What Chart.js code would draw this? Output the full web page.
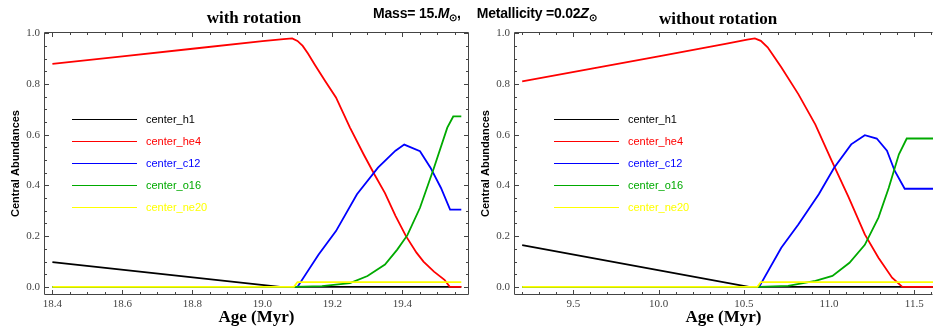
<!DOCTYPE html>
<html><head><meta charset="utf-8">
<script src="https://cdn.jsdelivr.net/npm/chart.js@4.4.0/dist/chart.umd.min.js"></script>
<style>
html,body{margin:0;padding:0;background:#fff;width:933px;height:326px;overflow:hidden;position:relative}
#c1{position:absolute;left:0;top:0}
#c2{position:absolute;left:470px;top:0}
.t{position:absolute;font:bold 17px 'Liberation Serif';white-space:nowrap;transform:translateX(-50%);line-height:20px}
#sup{position:absolute;left:373px;top:4px;font:bold 14px 'Liberation Sans';white-space:nowrap;line-height:18px;letter-spacing:-0.2px}
#sup sub{font-size:10px;vertical-align:-3px;line-height:0}
#sup .g{margin-left:16px}
</style></head><body>
<canvas id="c1" width="470" height="326"></canvas>
<canvas id="c2" width="463" height="326"></canvas>
<div class="t" style="left:254px;top:8px">with rotation</div>
<div class="t" style="left:718px;top:9px">without rotation</div>
<div id="sup">Mass= 15.<i>M</i><sub>⊙</sub>,<span class="g">Metallicity =0.02<i>Z</i><sub>⊙</sub></span></div>
<script>
// ---------- data: with rotation ----------
const rotH1Age  = [18.4, 19.05, 19.10, 19.568];
const rotH1     = [0.098, 0.0, 0.0, 0.0];
const rotHe4Age = [18.4, 18.6, 18.8, 19.0, 19.06, 19.085, 19.10, 19.115, 19.13, 19.15, 19.18, 19.21, 19.25, 19.29, 19.32, 19.35, 19.38, 19.41, 19.44, 19.46, 19.49, 19.52, 19.535, 19.568];
const rotHe4    = [0.879, 0.909, 0.939, 0.969, 0.977, 0.980, 0.970, 0.950, 0.920, 0.875, 0.810, 0.747, 0.628, 0.520, 0.443, 0.370, 0.280, 0.200, 0.135, 0.100, 0.060, 0.028, 0.0, 0.0];
const rotC12Age = [18.4, 19.10, 19.16, 19.21, 19.27, 19.33, 19.38, 19.405, 19.45, 19.48, 19.51, 19.536, 19.568];
const rotC12    = [0.0, 0.0, 0.127, 0.220, 0.365, 0.470, 0.537, 0.561, 0.535, 0.470, 0.390, 0.305, 0.305];
const rotO16Age = [18.4, 19.09, 19.17, 19.25, 19.30, 19.35, 19.385, 19.414, 19.45, 19.49, 19.528, 19.545, 19.568];
const rotO16    = [0.0, 0.0, 0.003, 0.015, 0.043, 0.088, 0.147, 0.204, 0.312, 0.470, 0.628, 0.672, 0.672];
const rotNe20Age= [18.4, 19.09, 19.10, 19.568];
const rotNe20   = [0.0, 0.0, 0.019, 0.019];

// ---------- data: without rotation ----------
const norH1Age  = [9.2, 10.53, 10.60, 11.61];
const norH1     = [0.165, 0.0, 0.0, 0.0];
const norHe4Age = [9.2, 9.6, 10.0, 10.4, 10.52, 10.565, 10.60, 10.64, 10.68, 10.72, 10.82, 10.92, 11.016, 11.116, 11.21, 11.29, 11.37, 11.43, 11.61];
const norHe4    = [0.810, 0.860, 0.909, 0.959, 0.975, 0.980, 0.970, 0.945, 0.905, 0.866, 0.760, 0.640, 0.497, 0.352, 0.207, 0.115, 0.036, 0.0, 0.0];
const norC12Age = [9.2, 10.59, 10.72, 10.82, 10.94, 11.03, 11.13, 11.21, 11.28, 11.34, 11.385, 11.444, 11.61];
const norC12    = [0.0, 0.0, 0.154, 0.246, 0.365, 0.470, 0.562, 0.598, 0.585, 0.537, 0.458, 0.387, 0.387];
const norO16Age = [9.2, 10.59, 10.76, 10.92, 11.02, 11.12, 11.21, 11.29, 11.35, 11.41, 11.456, 11.61];
const norO16    = [0.0, 0.0, 0.004, 0.024, 0.043, 0.095, 0.166, 0.273, 0.390, 0.523, 0.585, 0.585];
const norNe20Age= [9.2, 10.58, 10.60, 11.61];
const norNe20   = [0.0, 0.0, 0.019, 0.019];

// ---------- labels and ticks ----------
const seriesNames  = ['center_h1', 'center_he4', 'center_c12', 'center_o16', 'center_ne20'];
const seriesColors = ['#000000', '#ff0000', '#0000ff', '#00aa00', '#ffff00'];
const yTicks       = [0.0, 0.2, 0.4, 0.6, 0.8, 1.0];
const xTicksRot    = [18.4, 18.6, 18.8, 19.0, 19.2, 19.4];
const xTicksNor    = [9.5, 10.0, 10.5, 11.0, 11.5];
const yTitle = 'Central Abundances';
const xTitle = 'Age (Myr)';

const pts = (a, v) => a.map((x, i) => ({x: x, y: v[i]}));

function makeDatasets(sets) {
  return sets.map((s, i) => ({
    label: seriesNames[i],
    data: pts(s[0], s[1]),
    borderColor: seriesColors[i],
    backgroundColor: seriesColors[i],
    borderWidth: 1.8,
    pointRadius: 0,
    tension: 0,
    fill: false,
    order: 5 - i
  }));
}

const framePlugin = {
  id: 'frame',
  afterDatasetsDraw(chart, args, o) {
    const {ctx, chartArea: a, scales: {x, y}} = chart;
    ctx.save();
    ctx.strokeStyle = '#444';
    ctx.lineWidth = 1;
    ctx.beginPath();
    ctx.moveTo(a.left + 0.5, a.bottom - 0.5);
    ctx.lineTo(a.left + 0.5, a.top + 0.5);
    ctx.lineTo(a.right - 0.5, a.top + 0.5);
    if (!o.noRight) ctx.lineTo(a.right - 0.5, a.bottom - 0.5);
    else ctx.moveTo(a.right - 0.5, a.bottom - 0.5);
    ctx.lineTo(a.left + 0.5, a.bottom - 0.5);
    ctx.stroke();
    const xt = (v, len) => {
      const p = Math.round(x.getPixelForValue(v)) + 0.5;
      if (p < a.left + 1 || p > a.right - 1) return;
      ctx.moveTo(p, a.bottom); ctx.lineTo(p, a.bottom - len);
      ctx.moveTo(p, a.top); ctx.lineTo(p, a.top + len);
    };
    const yt = (v, len) => {
      const p = Math.round(y.getPixelForValue(v)) + 0.5;
      if (p < a.top + 1 || p > a.bottom - 1) return;
      ctx.moveTo(a.left, p); ctx.lineTo(a.left + len, p);
      if (!o.noRight) { ctx.moveTo(a.right, p); ctx.lineTo(a.right - len, p); }
    };
    ctx.beginPath();
    const xs = o.xMinor;
    for (let v = Math.ceil(x.min / xs) * xs; v <= x.max + 1e-9; v += xs) xt(+v.toFixed(4), 3);
    for (let v = Math.ceil(y.min / 0.05) * 0.05; v <= y.max + 1e-9; v += 0.05) yt(+v.toFixed(4), 3);
    o.xMajor.forEach(v => xt(v, 5));
    yTicks.forEach(v => yt(v, 5));
    ctx.stroke();
    ctx.restore();
  },
  afterDraw(chart, args, o) {
    const {ctx, chartArea: a} = chart;
    ctx.save();
    ctx.font = '11px "Liberation Sans", Arial, sans-serif';
    ctx.textBaseline = 'middle';
    chart.data.datasets.forEach((d, i) => {
      const yy = a.top + o.legY + i * 22 + 0.5;
      ctx.strokeStyle = d.borderColor;
      ctx.lineWidth = 1;
      ctx.beginPath();
      ctx.moveTo(a.left + o.legX, yy);
      ctx.lineTo(a.left + o.legX + 65, yy);
      ctx.stroke();
      ctx.fillStyle = d.borderColor;
      ctx.fillText(d.label, a.left + o.legX + 74, yy);
    });
    ctx.restore();
  }
};

function makeChart(id, sets, xmin, xmax, xMajor, xMinor, legX, noRight, padRight) {
  return new Chart(document.getElementById(id), {
    type: 'line',
    data: {datasets: makeDatasets(sets)},
    options: {
      responsive: false,
      animation: false,
      layout: {padding: {top: 32, right: padRight, left: 0, bottom: 0}},
      plugins: {
        legend: {display: false},
        tooltip: {enabled: false},
        frame: {xMajor: xMajor, xMinor: xMinor, legX: legX, legY: 87, noRight: noRight}
      },
      scales: {
        x: {
          type: 'linear', min: xmin, max: xmax,
          grid: {display: false, drawTicks: false},
          border: {display: false},
          afterBuildTicks: s => { s.ticks = xMajor.map(v => ({value: v})); },
          afterFit: s => { s.height = 31; },
          ticks: {autoSkip: false, maxRotation: 0, padding: 3, color: '#444',
                  font: {family: '"Liberation Serif", "Times New Roman", serif', size: 11},
                  callback: v => v.toFixed(1)},
          title: {display: true, text: xTitle, color: '#000', padding: {top: 0, bottom: 0},
                  font: {family: '"Liberation Serif", "Times New Roman", serif', size: 17, weight: 'bold', lineHeight: 1}}
        },
        y: {
          min: -0.032, max: 1.005,
          grid: {display: false, drawTicks: false},
          border: {display: false},
          afterBuildTicks: s => { s.ticks = yTicks.map(v => ({value: v})); },
          afterFit: s => { s.width = 44; },
          ticks: {autoSkip: false, padding: 4, color: '#444',
                  font: {family: '"Liberation Serif", "Times New Roman", serif', size: 11},
                  callback: v => v.toFixed(1)},
          title: {display: true, text: yTitle, color: '#000', padding: {top: 9, bottom: 0},
                  font: {family: '"Liberation Sans", Arial, sans-serif', size: 11, weight: 'bold', lineHeight: 1.2}}
        }
      }
    },
    plugins: [framePlugin]
  });
}

makeChart('c1',
  [[rotH1Age, rotH1], [rotHe4Age, rotHe4], [rotC12Age, rotC12], [rotO16Age, rotO16], [rotNe20Age, rotNe20]],
  18.376, 19.59, xTicksRot, 0.05, 28, false, 1);
makeChart('c2',
  [[norH1Age, norH1], [norHe4Age, norHe4], [norC12Age, norC12], [norO16Age, norO16], [norNe20Age, norNe20]],
  9.152, 11.61, xTicksNor, 0.1, 40, true, 0);
</script>
</body></html>
